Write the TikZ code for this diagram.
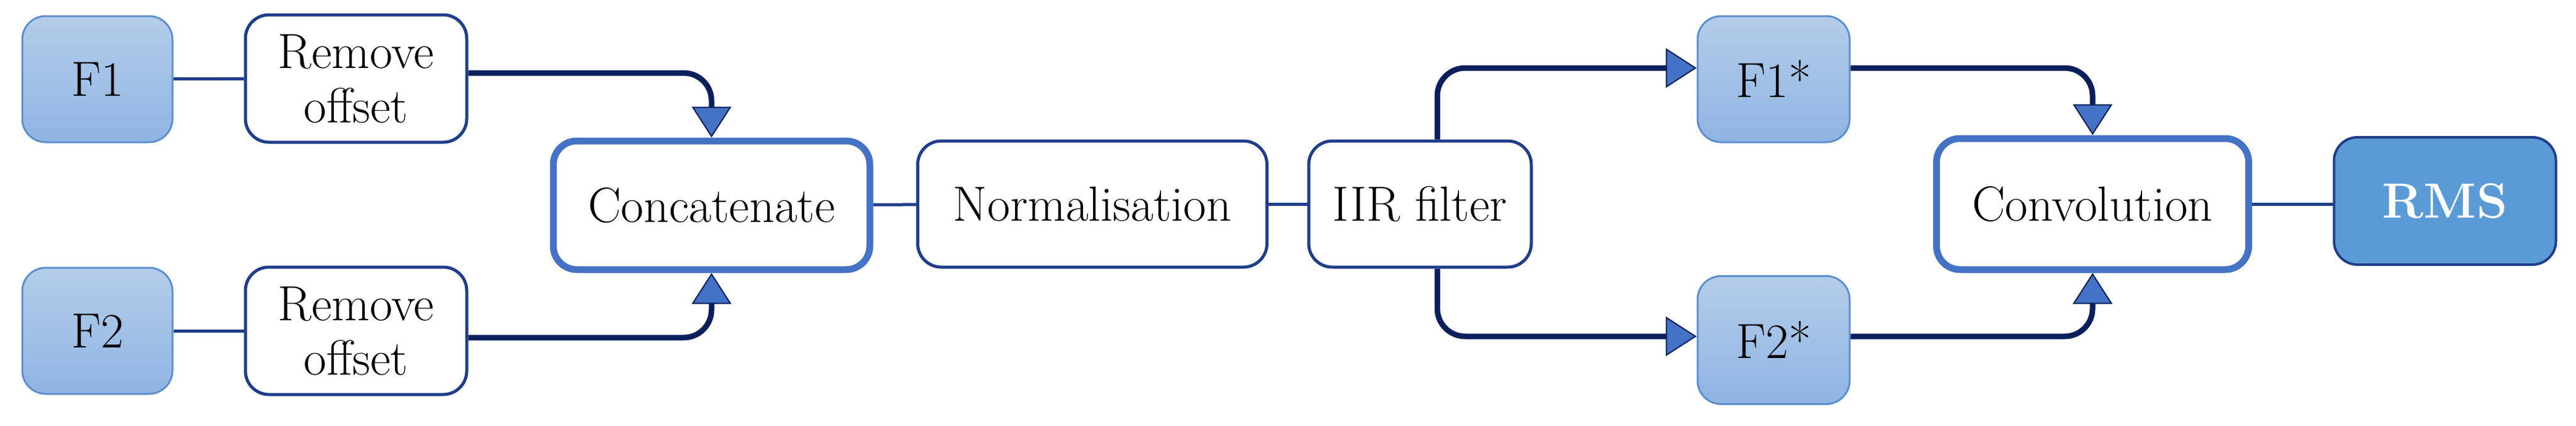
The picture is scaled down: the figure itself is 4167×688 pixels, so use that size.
\documentclass[tikz,border=0pt]{standalone}
\usetikzlibrary{arrows.meta}
\definecolor{navy}{HTML}{0B1F5C}
\definecolor{bord}{HTML}{1F3D8A}
\definecolor{lite}{HTML}{5B8FCF}
\definecolor{ltop}{HTML}{B4CDE9}
\definecolor{lbot}{HTML}{8FB4E3}
\definecolor{rmsf}{HTML}{5B9BD5}
\definecolor{arrf}{HTML}{4472C4}
\begin{document}
\begin{tikzpicture}[x=1pt,y=-1pt,
  every node/.style={font=\fontsize{80}{88}\selectfont, inner sep=0pt, align=center},
  src/.style={draw=lite, line width=3pt, rounded corners=38pt, top color=ltop, bottom color=lbot},
  proc/.style={draw=bord, line width=5pt, rounded corners=38pt, fill=white},
  big/.style={draw=arrf, line width=11pt, rounded corners=38pt, fill=white},
  thin/.style={draw=bord, line width=5pt},
  flow/.style={draw=navy, line width=9pt, rounded corners=45pt,
    -{Triangle[width=64pt,length=50pt,fill=arrf,line width=2pt]}},
]
\useasboundingbox (0,0) rectangle (4167,688);
\node[src, minimum width=243pt, minimum height=204pt] (f1) at (157.5,128) {F1};
\node[src, minimum width=243pt, minimum height=204pt] (f2) at (157.5,535) {F2};
\node[proc, minimum width=358pt, minimum height=206pt] (r1) at (576,127) {Remove\\offset};
\node[proc, minimum width=358pt, minimum height=206pt] (r2) at (576,535) {Remove\\offset};
\node[big, minimum width=512pt, minimum height=208pt] (cc) at (1151,332) {Concatenate};
\node[proc, minimum width=565pt, minimum height=204pt] (nm) at (1767,330) {Normalisation};
\node[proc, minimum width=360pt, minimum height=204pt] (iir) at (2297,330) {IIR filter};
\node[src, minimum width=246pt, minimum height=204pt] (f1s) at (2869,128) {F1*};
\node[src, minimum width=246pt, minimum height=207pt] (f2s) at (2869,550) {F2*};
\node[big, minimum width=505pt, minimum height=212pt] (cv) at (3385,330) {Convolution};
\node[draw=bord, line width=4pt, rounded corners=38pt, fill=rmsf, text=white, font=\fontsize{80}{88}\selectfont\bfseries,
  minimum width=359pt, minimum height=206pt] (rms) at (3955,325) {RMS};
\draw[thin] (f1) -- (r1);
\draw[thin] (f2) -- (r2);
\draw[thin] (cc) -- (nm);
\draw[thin] (nm) -- (iir);
\draw[thin] (cv.east) -- (cv.east -| rms.west);
\draw[flow] ([yshift=9pt]r1.east) -| (cc.north);
\draw[flow] ([yshift=-11pt]r2.east) -| (cc.south);
\draw[flow] ([xshift=28pt]iir.north) |- ([yshift=18pt]f1s.west);
\draw[flow] ([xshift=28pt]iir.south) |- ([yshift=6pt]f2s.west);
\draw[flow] ([yshift=18pt]f1s.east) -| (cv.north);
\draw[flow] ([yshift=6pt]f2s.east) -| (cv.south);
\end{tikzpicture}
\end{document}
